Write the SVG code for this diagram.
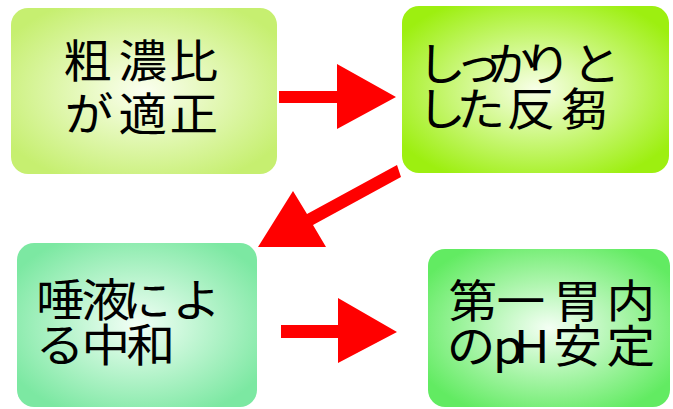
<svg xmlns="http://www.w3.org/2000/svg" width="673" height="409" viewBox="0 0 673 409">
<defs>
<radialGradient id="g1" cx="0.5" cy="0.5" r="0.6"><stop offset="0" stop-color="#fbfff0"/><stop offset="1" stop-color="#c6ef70"/></radialGradient>
<radialGradient id="g2" cx="0.5" cy="0.5" r="0.6"><stop offset="0" stop-color="#f8ffe8"/><stop offset="1" stop-color="#9def10"/></radialGradient>
<radialGradient id="g3" cx="0.5" cy="0.5" r="0.6"><stop offset="0" stop-color="#f2fff6"/><stop offset="1" stop-color="#7ce8a2"/></radialGradient>
<radialGradient id="g4" cx="0.5" cy="0.5" r="0.6"><stop offset="0" stop-color="#f4fff4"/><stop offset="1" stop-color="#62eb62"/></radialGradient>
<style>
text{font-family:"Noto Sans CJK JP","Noto Sans",sans-serif;font-size:45px;fill:#000}
.arr{fill:#ff0000}
</style>
</defs>
<g id="connectors">
<polygon class="arr" points="279,91 337,91 337,64 396,97 337,129 337,103 279,103"/>
<polygon class="arr" points="397,165 401,177 313,225 326,247 258,247 293,191 307,214"/>
<polygon class="arr" points="281,325 338,325 338,298 397,332 338,363 338,338 281,338"/>
</g>
<g id="node1">
<rect x="11" y="8" width="266" height="166" rx="17" fill="url(#g1)"/>
<text transform="matrix(1.08 0 0 1 -5.12 0)" x="63.4 114.4 161.6" y="78">粗濃比</text>
<text transform="matrix(1.08 0 0 1 -5.12 0)" x="64.6 114.4 161.6" y="131">が適正</text>
</g>
<g id="node2">
<rect x="402" y="6" width="267" height="167" rx="17" fill="url(#g2)"/>
<text transform="matrix(1.08 0 0 1 -33.6 0)" x="417.5 452.1 482.6 515.2 560.8" y="81">しっかりと</text>
<text transform="matrix(1.08 0 0 1 -33.6 0)" x="417.5 453.7 500 550" y="126">した反芻</text>
</g>
<g id="node3">
<rect x="17" y="243" width="240" height="164" rx="17" fill="url(#g3)"/>
<text transform="matrix(1.08 0 0 1 -2.96 0)" x="36.4 78.1 115.6 162.3" y="317">唾液によ</text>
<text transform="matrix(1.08 0 0 1 -2.96 0)" x="35.8 78.1 119.8" y="362">る中和</text>
</g>
<g id="node4">
<rect x="428" y="249" width="242" height="158" rx="17" fill="url(#g4)"/>
<text transform="matrix(1.08 0 0 1 -36 0)" x="448.5 493 545.7 594.8" y="318">第一胃内</text>
<text transform="matrix(1.08 0 0 1 -36 0)" x="447.1 489.9 509.2 545.7 594.8" y="363">のpH安定</text>
</g>
</svg>
